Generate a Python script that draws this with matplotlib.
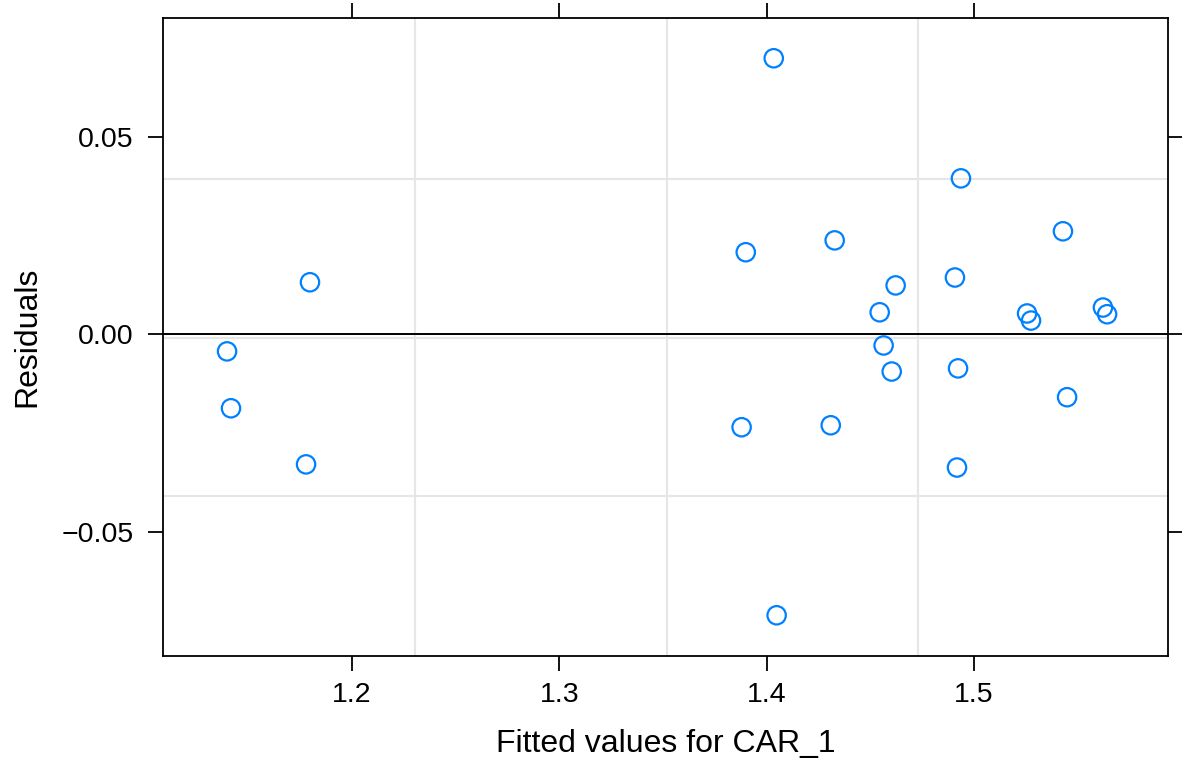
import matplotlib
matplotlib.use("Agg")
import matplotlib.pyplot as plt

plt.rcParams['font.family'] = ['Liberation Sans', 'DejaVu Sans']

fitted = [1.1397, 1.1416, 1.1778, 1.1797, 1.3879, 1.3899, 1.4034, 1.4048,
          1.4309, 1.4328, 1.4545, 1.4564, 1.4603, 1.4622, 1.4908, 1.4918,
          1.4923, 1.4937, 1.5256, 1.5275, 1.5429, 1.5449, 1.5622, 1.5642]
residuals = [-0.0043, -0.0187, -0.0329, 0.0132, -0.0235, 0.0208, 0.0699, -0.0711,
             -0.0230, 0.0238, 0.0056, -0.0028, -0.0094, 0.0124, 0.0144, -0.0337,
             -0.0086, 0.0395, 0.0053, 0.0035, 0.0261, -0.0159, 0.0068, 0.0051]

x_ticks = [1.2, 1.3, 1.4, 1.5]
y_ticks = [0.05, 0.00, -0.05]
y_tick_labels = ["0.05", "0.00", "\u22120.05"]
grid_x = [1.2304, 1.352, 1.473]
grid_y = [0.0394, -0.0008, -0.0408]

fig = plt.figure(figsize=(11.82, 7.71), dpi=100)
ax = fig.add_axes([0.1379, 0.1492, 0.8503, 0.8275])

for gx in grid_x:
    ax.axvline(gx, color='#e6e6e6', lw=1.5, zorder=0)
for gy in grid_y:
    ax.axhline(gy, color='#e6e6e6', lw=1.5, zorder=0)
ax.axhline(0, color='black', lw=1.4, zorder=1)

ax.scatter(fitted, residuals, s=175, facecolors='none', edgecolors='#0080ff',
           linewidths=1.6, zorder=3)

ax.set_xlim(1.1088, 1.5936)
ax.set_ylim(-0.0814, 0.0801)
ax.set_xticks(x_ticks)
ax.set_xticklabels([f"{t:.1f}" for t in x_ticks])
ax.set_yticks(y_ticks)
ax.set_yticklabels(y_tick_labels)
ax.tick_params(axis='both', direction='out', length=11, width=1.3, labelsize=20.5,
               top=True, right=True, labeltop=False, labelright=False, pad=10)
ax.tick_params(axis='x', pad=8)
for s in ax.spines.values():
    s.set_linewidth(1.3)

ax.set_xlabel("Fitted values for CAR_1", fontsize=23, labelpad=15)
ax.set_ylabel("Residuals", fontsize=23, labelpad=14)

fig.savefig("out.png", dpi=100)
